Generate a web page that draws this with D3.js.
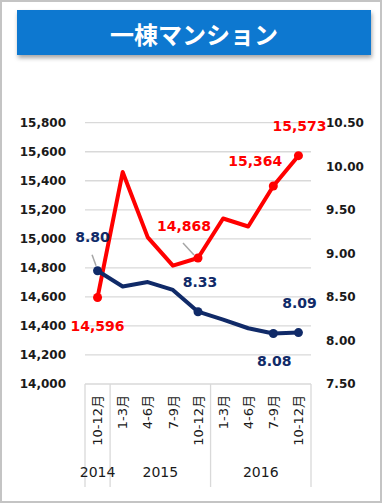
<!DOCTYPE html>
<html>
<head>
<meta charset="utf-8">
<script src="https://cdn.jsdelivr.net/npm/d3@7"></script>
<style>
  body { margin: 0; background: #fff; }
  svg { display: block; }
</style>
</head>
<body>
<div id="chart"></div>
<script>
"use strict";

// data
const quarters = ["10-12月", "1-3月", "4-6月", "7-9月", "10-12月", "1-3月", "4-6月", "7-9月", "10-12月"];
const years = [
  { label: "2014", from: 0, to: 0 },
  { label: "2015", from: 1, to: 4 },
  { label: "2016", from: 5, to: 8 },
];
const priceValues = [14596, 15460, 15010, 14815, 14868, 15140, 15085, 15364, 15573];
const yieldValues = [8.8, 8.62, 8.67, 8.58, 8.33, 8.24, 8.14, 8.08, 8.09];
const leftTicks = [14000, 14200, 14400, 14600, 14800, 15000, 15200, 15400, 15600, 15800];
const rightTicks = [7.5, 8.0, 8.5, 9.0, 9.5, 10.0, 10.5];
const markerIdx = [0, 4, 7, 8];
// labelled points: index, offset of label centre, optional leader line offsets
const priceLabels = [
  { i: 0, dx: 0, dy: 29 },
  { i: 4, dx: -14, dy: -32, leader: [-15, -15, -4, -3] },
  { i: 7, dx: -18, dy: -25 },
  { i: 8, dx: 1, dy: -30 },
];
const yieldLabels = [
  { i: 0, dx: -5, dy: -34, leader: [-5.5, -16, -1.5, -5] },
  { i: 4, dx: 2, dy: -30 },
  { i: 7, dx: 1, dy: 28 },
  { i: 8, dx: 1, dy: -30 },
];

const width = 382;
const height = 503;
const plot = { left: 85, right: 311, top: 122.7, bottom: 384 };
const red = "#ff0000";
const navy = "#102a68";
const font = "'DejaVu Sans', 'Noto Sans CJK JP', sans-serif";

const svg = d3
  .select("#chart")
  .append("svg")
  .attr("width", width)
  .attr("height", height)
  .style("font-family", font);

// outer frame
svg
  .append("rect")
  .attr("x", 1)
  .attr("y", 1)
  .attr("width", width - 2)
  .attr("height", height - 2)
  .attr("fill", "#fff")
  .attr("stroke", "#c4c4c4")
  .attr("stroke-width", 2);

///////////////////////////////////
// Title banner
///////////////////////////////////
const defs = svg.append("defs");
const shadow = defs.append("filter").attr("id", "shadow").attr("x", "-10%").attr("y", "-30%").attr("width", "120%").attr("height", "170%");
shadow
  .append("feDropShadow")
  .attr("dx", 1)
  .attr("dy", 3)
  .attr("stdDeviation", 2)
  .attr("flood-color", "#000")
  .attr("flood-opacity", 0.35);

svg
  .append("rect")
  .attr("x", 17)
  .attr("y", 10)
  .attr("width", 354)
  .attr("height", 45)
  .attr("fill", "#0a78d0")
  .attr("filter", "url(#shadow)");

svg
  .append("text")
  .attr("x", 194)
  .attr("y", 33)
  .attr("text-anchor", "middle")
  .attr("dominant-baseline", "central")
  .attr("fill", "#fff")
  .style("font-family", "'Noto Sans CJK JP', sans-serif")
  .style("font-weight", "bold")
  .style("font-size", "24px")
  .text("一棟マンション");

///////////////////////////////////
// Scales
///////////////////////////////////
const x = d3
  .scaleBand()
  .domain(d3.range(quarters.length))
  .range([plot.left, plot.right]);
const cx = (i) => x(i) + x.bandwidth() / 2;

const yLeft = d3.scaleLinear().domain([14000, 15800]).range([plot.bottom, plot.top]);
const yRight = d3.scaleLinear().domain([7.5, 10.5]).range([plot.bottom, plot.top]);

// gridlines
svg
  .append("g")
  .selectAll("line")
  .data(leftTicks.slice(1))
  .enter()
  .append("line")
  .attr("x1", plot.left)
  .attr("x2", plot.right)
  .attr("y1", (d) => yLeft(d))
  .attr("y2", (d) => yLeft(d))
  .attr("stroke", "#d9d9d9")
  .attr("stroke-width", 1.3);

// left axis
const leftAxis = svg
  .append("g")
  .attr("transform", `translate(${plot.left},0)`)
  .call(
    d3
      .axisLeft(yLeft)
      .tickValues(leftTicks)
      .tickSize(0)
      .tickPadding(19)
      .tickFormat(d3.format(","))
  );
leftAxis.select(".domain").remove();
leftAxis
  .selectAll("text")
  .style("font-family", font)
  .style("font-size", "12px")
  .style("font-weight", "bold")
  .attr("fill", "#1a1a1a");

// right axis
const rightAxis = svg
  .append("g")
  .attr("transform", `translate(${plot.right},0)`)
  .call(
    d3
      .axisRight(yRight)
      .tickValues(rightTicks)
      .tickSize(0)
      .tickPadding(15)
      .tickFormat(d3.format(".2f"))
  );
rightAxis.select(".domain").remove();
rightAxis
  .selectAll("text")
  .style("font-family", font)
  .style("font-size", "12px")
  .style("font-weight", "bold")
  .attr("fill", "#1a1a1a");

///////////////////////////////////
// Multi-level category axis
///////////////////////////////////
const axisG = svg.append("g");
axisG
  .append("line")
  .attr("x1", plot.left)
  .attr("x2", plot.right)
  .attr("y1", plot.bottom)
  .attr("y2", plot.bottom)
  .attr("stroke", "#d9d9d9")
  .attr("stroke-width", 1.3);

const separators = [plot.left].concat(years.map((yr) => x(yr.to) + x.bandwidth()));
axisG
  .selectAll(".sep")
  .data(separators)
  .enter()
  .append("line")
  .attr("class", "sep")
  .attr("x1", (d) => d)
  .attr("x2", (d) => d)
  .attr("y1", plot.bottom)
  .attr("y2", 487)
  .attr("stroke", "#d9d9d9")
  .attr("stroke-width", 1.3);

axisG
  .selectAll(".qtr")
  .data(quarters)
  .enter()
  .append("text")
  .attr("class", "qtr")
  .attr("transform", (d, i) => `translate(${cx(i)},${plot.bottom + 11}) rotate(-90)`)
  .attr("text-anchor", "end")
  .attr("dy", "0.36em")
  .style("font-size", "13px")
  .attr("fill", "#1a1a1a")
  .text((d) => d);

axisG
  .selectAll(".yr")
  .data(years)
  .enter()
  .append("text")
  .attr("class", "yr")
  .attr("x", (d) => (x(d.from) + x(d.to) + x.bandwidth()) / 2)
  .attr("y", 477)
  .attr("text-anchor", "middle")
  .style("font-size", "14px")
  .attr("fill", "#1a1a1a")
  .text((d) => d.label);

///////////////////////////////////
// Series
///////////////////////////////////
const drawSeries = (values, yScale, color, labels, fmt) => {
  const g = svg.append("g");
  const line = d3
    .line()
    .x((d, i) => cx(i))
    .y((d) => yScale(d));

  // leader lines from label to point
  labels
    .filter((l) => l.leader)
    .forEach((l) => {
      const px = cx(l.i);
      const py = yScale(values[l.i]);
      g.append("line")
        .attr("x1", px + l.leader[0])
        .attr("y1", py + l.leader[1])
        .attr("x2", px + l.leader[2])
        .attr("y2", py + l.leader[3])
        .attr("stroke", "#a6a6a6")
        .attr("stroke-width", 1.5);
    });

  g.append("path")
    .datum(values)
    .attr("d", line)
    .attr("fill", "none")
    .attr("stroke", color)
    .attr("stroke-width", 4)
    .attr("stroke-linejoin", "round");

  g.selectAll("circle")
    .data(markerIdx)
    .enter()
    .append("circle")
    .attr("cx", (i) => cx(i))
    .attr("cy", (i) => yScale(values[i]))
    .attr("r", 4.5)
    .attr("fill", color);

  g.selectAll(".lbl")
    .data(labels)
    .enter()
    .append("text")
    .attr("class", "lbl")
    .attr("x", (l) => cx(l.i) + l.dx)
    .attr("y", (l) => yScale(values[l.i]) + l.dy)
    .attr("text-anchor", "middle")
    .attr("dominant-baseline", "central")
    .style("font-size", "14px")
    .style("font-weight", "bold")
    .attr("fill", color)
    .text((l) => fmt(values[l.i]));
};

drawSeries(priceValues, yLeft, red, priceLabels, d3.format(","));
drawSeries(yieldValues, yRight, navy, yieldLabels, d3.format(".2f"));
</script>
</body>
</html>
